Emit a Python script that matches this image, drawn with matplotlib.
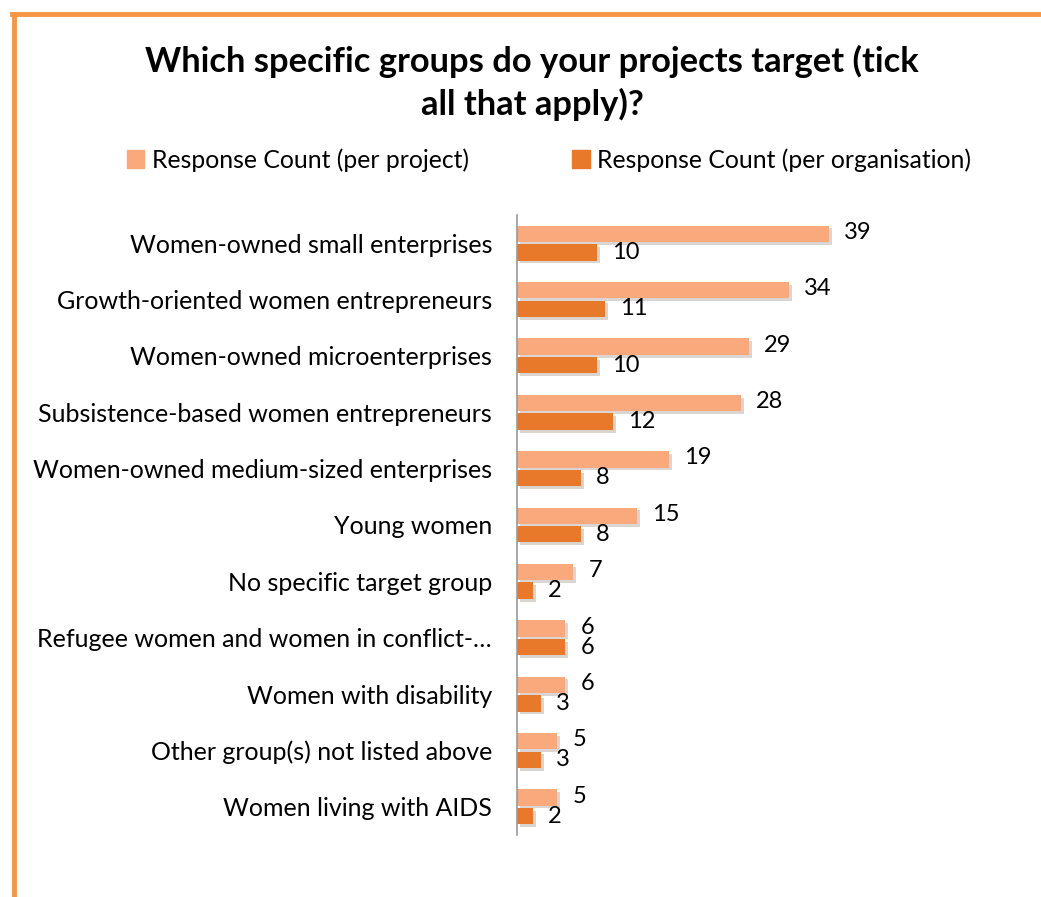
import matplotlib
matplotlib.use('Agg')
from matplotlib import pyplot as plt
from matplotlib.lines import Line2D
from matplotlib.patches import Patch
import matplotlib.patheffects as pe
import numpy as np

# chart data (top to bottom)
categories = [
    'Women-owned small enterprises',
    'Growth-oriented women entrepreneurs',
    'Women-owned microenterprises',
    'Subsistence-based women entrepreneurs',
    'Women-owned medium-sized enterprises',
    'Young women',
    'No specific target group',
    'Refugee women and women in conflict-\u2026',
    'Women with disability',
    'Other group(s) not listed above',
    'Women living with AIDS',
]
per_project = [39, 34, 29, 28, 19, 15, 7, 6, 6, 5, 5]
per_organisation = [10, 11, 10, 12, 8, 8, 2, 6, 3, 3, 2]
series_names = ['Response Count (per project)', 'Response Count (per organisation)']

plt.rcParams['font.family'] = ['Lato', 'DejaVu Sans']

W, H = 1041, 897
fig = plt.figure(figsize=(W / 100, H / 100), dpi=100)

# orange frame (top and left edge visible)
frame_col = '#F79646'
fig.add_artist(Line2D([12 / W, 1.0], [1 - 14 / H, 1 - 14 / H], color=frame_col, lw=3.5,
                      transform=fig.transFigure))
fig.add_artist(Line2D([14 / W, 14 / W], [0.0, 1 - 14 / H], color=frame_col, lw=3.5,
                      transform=fig.transFigure))

# plot area in pixels: x from 517, y from 215 to 835
ax = fig.add_axes([517 / W, 1 - 835 / H, 360 / W, 620 / H])

n = len(categories)
y = np.arange(n)
bh = 0.29
col_proj = '#F9A97B'
col_org = '#E8792A'
shadow = [pe.SimplePatchShadow(offset=(2, -2), alpha=0.2), pe.Normal()]

b1 = ax.barh(y - 0.165, per_project, height=bh, color=col_proj)
b2 = ax.barh(y + 0.165, per_organisation, height=bh, color=col_org)
for b in list(b1) + list(b2):
    b.set_path_effects(shadow)

for i in range(n):
    ax.annotate(str(per_project[i]), (per_project[i], y[i] - 0.165), xytext=(11, 1),
                textcoords='offset points', va='center', ha='left', fontsize=17)
    ax.annotate(str(per_organisation[i]), (per_organisation[i], y[i] + 0.165), xytext=(11, 0),
                textcoords='offset points', va='center', ha='left', fontsize=17)

ax.set_xlim(0, 45)
ax.set_ylim(n - 0.5, -0.5)
ax.set_yticks(y)
ax.set_yticklabels(categories, fontsize=18)
ax.tick_params(axis='y', length=0, pad=18)
ax.set_xticks([])
for s in ['top', 'right', 'bottom']:
    ax.spines[s].set_visible(False)
ax.spines['left'].set_color('#999999')
ax.spines['left'].set_linewidth(1.2)

fig.text(532 / W, 1 - 83 / H, 'Which specific groups do your projects target (tick\nall that apply)?',
         ha='center', va='center', fontsize=24.8, fontweight='bold', linespacing=1.35)

handles = [Patch(color=col_proj), Patch(color=col_org)]
fig.legend(handles=handles, labels=series_names, loc='center', ncol=2,
           bbox_to_anchor=(549 / W, 1 - 160 / H), frameon=False, fontsize=17.8,
           handlelength=0.7, handleheight=0.7, handletextpad=0.3, columnspacing=4.2)

fig.savefig('out.png', dpi=100)
plt.close()
